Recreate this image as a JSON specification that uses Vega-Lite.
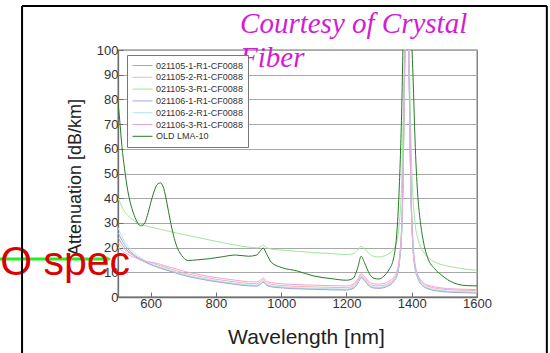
{
  "$schema": "https://vega.github.io/schema/vega-lite/v6.json",
  "width": 359,
  "height": 247,
  "autosize": {"type": "none"},
  "padding": {"left": 118, "top": 50, "right": 73, "bottom": 56},
  "background": "white",
  "config": {
    "view": {"stroke": "#707070", "strokeWidth": 1.3},
    "font": "Liberation Sans",
    "numberFormat": "d",
    "axis": {"labelFont": "Liberation Sans", "titleFont": "Liberation Sans", "labelColor": "#333333", "titleColor": "#222222", "domainColor": "#707070", "domainWidth": 1.3, "tickColor": "#707070", "titleFontWeight": "normal", "labelOverlap": false, "labelFlush": false},
    "legend": {"labelFont": "Liberation Sans"}
  },
  "layer": [
    {
      "data": {"values": [
        {"x":500,"s1":24,"s2":22,"s3":40,"s4":26,"s5":28,"s6":20,"s7":79},
        {"x":505,"s1":23,"s2":21.3,"s3":38.5,"s4":24.8,"s5":26.5,"s6":19.5,"s7":72},
        {"x":512,"s1":21.5,"s2":20.3,"s3":36.5,"s4":23,"s5":24.5,"s6":18.8,"s7":61},
        {"x":520,"s1":20,"s2":19.2,"s3":34.5,"s4":21.2,"s5":22.5,"s6":18,"s7":52},
        {"x":530,"s1":18.7,"s2":18.2,"s3":33,"s4":19.6,"s5":20.7,"s6":17.3,"s7":43},
        {"x":540,"s1":17.6,"s2":17.4,"s3":31.8,"s4":18.2,"s5":19.2,"s6":16.6,"s7":37},
        {"x":550,"s1":16.6,"s2":16.6,"s3":30.8,"s4":17,"s5":17.9,"s6":16,"s7":33},
        {"x":560,"s1":15.8,"s2":16,"s3":30,"s4":16,"s5":16.8,"s6":15.5,"s7":30},
        {"x":570,"s1":15,"s2":15.4,"s3":29.5,"s4":15.1,"s5":15.8,"s6":15,"s7":28.8},
        {"x":580,"s1":14.4,"s2":14.9,"s3":29.1,"s4":14.4,"s5":15,"s6":14.6,"s7":29.5},
        {"x":590,"s1":13.8,"s2":14.4,"s3":28.7,"s4":13.7,"s5":14.2,"s6":14.2,"s7":33},
        {"x":600,"s1":13.3,"s2":14,"s3":28.3,"s4":13.1,"s5":13.6,"s6":14,"s7":38},
        {"x":610,"s1":12.8,"s2":13.6,"s3":28,"s4":12.6,"s5":13,"s6":13.9,"s7":42.5},
        {"x":620,"s1":12.3,"s2":13.1,"s3":27.7,"s4":12.1,"s5":12.5,"s6":13.6,"s7":45.5},
        {"x":630,"s1":11.8,"s2":12.6,"s3":27.4,"s4":11.6,"s5":12,"s6":13.2,"s7":46.2},
        {"x":640,"s1":11.4,"s2":12.2,"s3":27.1,"s4":11.2,"s5":11.6,"s6":12.8,"s7":44},
        {"x":650,"s1":11,"s2":11.8,"s3":26.8,"s4":10.8,"s5":11.2,"s6":12.4,"s7":38},
        {"x":660,"s1":10.6,"s2":11.4,"s3":26.5,"s4":10.4,"s5":10.8,"s6":12,"s7":31},
        {"x":670,"s1":10.2,"s2":11,"s3":26.2,"s4":10,"s5":10.4,"s6":11.7,"s7":25},
        {"x":680,"s1":9.8,"s2":10.6,"s3":25.9,"s4":9.6,"s5":10,"s6":11.3,"s7":20.5},
        {"x":690,"s1":9.4,"s2":10.2,"s3":25.6,"s4":9.2,"s5":9.6,"s6":10.9,"s7":17.8},
        {"x":700,"s1":9,"s2":9.8,"s3":25.3,"s4":8.8,"s5":9.2,"s6":10.5,"s7":16},
        {"x":715,"s1":8.5,"s2":9.3,"s3":24.9,"s4":8.3,"s5":8.7,"s6":10,"s7":14.8},
        {"x":740,"s1":7.8,"s2":8.6,"s3":24.2,"s4":7.6,"s5":8,"s6":9.3,"s7":15},
        {"x":780,"s1":6.8,"s2":7.6,"s3":23.1,"s4":6.6,"s5":7,"s6":8.3,"s7":15.5},
        {"x":820,"s1":6,"s2":6.8,"s3":22,"s4":5.8,"s5":6.2,"s6":7.5,"s7":16.3},
        {"x":860,"s1":5.3,"s2":6.1,"s3":21,"s4":5.1,"s5":5.5,"s6":6.8,"s7":17},
        {"x":900,"s1":4.7,"s2":5.5,"s3":20.2,"s4":4.5,"s5":4.9,"s6":6.2,"s7":16.5},
        {"x":925,"s1":4.6,"s2":5.4,"s3":19.9,"s4":4.4,"s5":4.8,"s6":6.1,"s7":17},
        {"x":935,"s1":5.2,"s2":6,"s3":20.2,"s4":5,"s5":5.4,"s6":6.7,"s7":18.5},
        {"x":945,"s1":6.2,"s2":7,"s3":21,"s4":6,"s5":6.4,"s6":7.7,"s7":19.8},
        {"x":955,"s1":5,"s2":5.8,"s3":20,"s4":4.8,"s5":5.2,"s6":6.5,"s7":17.5},
        {"x":970,"s1":4.3,"s2":5.1,"s3":19.4,"s4":4.1,"s5":4.5,"s6":5.8,"s7":14},
        {"x":1000,"s1":3.9,"s2":4.7,"s3":19,"s4":3.7,"s5":4.1,"s6":5.4,"s7":12},
        {"x":1050,"s1":3.5,"s2":4.3,"s3":18.5,"s4":3.3,"s5":3.7,"s6":5,"s7":10.5},
        {"x":1100,"s1":3.3,"s2":4.1,"s3":18,"s4":3.1,"s5":3.5,"s6":4.8,"s7":8.5},
        {"x":1150,"s1":3.1,"s2":3.9,"s3":17.6,"s4":2.9,"s5":3.3,"s6":4.6,"s7":7.5},
        {"x":1200,"s1":3,"s2":3.8,"s3":17.2,"s4":2.8,"s5":3.2,"s6":4.5,"s7":6.8},
        {"x":1220,"s1":3.6,"s2":4.4,"s3":17.5,"s4":3.4,"s5":3.8,"s6":5.1,"s7":7.5},
        {"x":1235,"s1":5.8,"s2":6.6,"s3":19,"s4":5.6,"s5":6,"s6":7.3,"s7":12},
        {"x":1245,"s1":8,"s2":8.8,"s3":20.5,"s4":7.8,"s5":8.2,"s6":9.5,"s7":16.5},
        {"x":1255,"s1":6.8,"s2":7.6,"s3":19.6,"s4":6.6,"s5":7,"s6":8.3,"s7":14},
        {"x":1270,"s1":4.6,"s2":5.4,"s3":17.5,"s4":4.4,"s5":4.8,"s6":6.1,"s7":9.5},
        {"x":1285,"s1":3.8,"s2":4.6,"s3":16.4,"s4":3.6,"s5":4,"s6":5.3,"s7":7.5},
        {"x":1300,"s1":3.7,"s2":4.5,"s3":16.2,"s4":3.5,"s5":3.9,"s6":5.2,"s7":7.3},
        {"x":1315,"s1":4,"s2":4.8,"s3":16.6,"s4":3.8,"s5":4.2,"s6":5.5,"s7":8.5},
        {"x":1330,"s1":4.8,"s2":5.6,"s3":17.5,"s4":4.6,"s5":5,"s6":6.3,"s7":11},
        {"x":1345,"s1":6.5,"s2":7.3,"s3":19.5,"s4":6.3,"s5":6.7,"s6":8,"s7":16},
        {"x":1355,"s1":9,"s2":9.8,"s3":23,"s4":8.8,"s5":9.2,"s6":10.5,"s7":27},
        {"x":1362,"s1":14,"s2":14.8,"s3":30,"s4":13.8,"s5":14.2,"s6":15.5,"s7":45},
        {"x":1370,"s1":30,"s2":31,"s3":50,"s4":29,"s5":30,"s6":32,"s7":80},
        {"x":1373,"s1":45,"s2":46,"s3":68,"s4":44,"s5":45,"s6":47,"s7":100},
        {"x":1378,"s1":90,"s2":92,"s3":100,"s4":88,"s5":90,"s6":92,"s7":120},
        {"x":1385,"s1":135,"s2":135,"s3":130,"s4":135,"s5":135,"s6":135,"s7":135},
        {"x":1392,"s1":90,"s2":92,"s3":100,"s4":88,"s5":90,"s6":92,"s7":125},
        {"x":1398,"s1":40,"s2":41,"s3":62,"s4":39,"s5":40,"s6":42,"s7":112},
        {"x":1401,"s1":28,"s2":29,"s3":48,"s4":27,"s5":28,"s6":30,"s7":100},
        {"x":1405,"s1":18,"s2":19,"s3":38,"s4":17.5,"s5":18,"s6":20,"s7":85},
        {"x":1410,"s1":12,"s2":13,"s3":30,"s4":11.8,"s5":12.2,"s6":13.5,"s7":64},
        {"x":1418,"s1":8,"s2":8.9,"s3":24,"s4":7.8,"s5":8.2,"s6":9.4,"s7":42},
        {"x":1425,"s1":6,"s2":6.8,"s3":21,"s4":5.8,"s5":6.2,"s6":7.3,"s7":32},
        {"x":1435,"s1":4.5,"s2":5.3,"s3":18.5,"s4":4.3,"s5":4.7,"s6":5.8,"s7":23},
        {"x":1450,"s1":3.5,"s2":4.3,"s3":16,"s4":3.3,"s5":3.7,"s6":4.8,"s7":15.5},
        {"x":1470,"s1":2.8,"s2":3.6,"s3":14.2,"s4":2.6,"s5":3,"s6":4.1,"s7":11.5},
        {"x":1490,"s1":2.4,"s2":3.2,"s3":13.2,"s4":2.2,"s5":2.6,"s6":3.7,"s7":9},
        {"x":1510,"s1":2.2,"s2":3,"s3":12.5,"s4":2,"s5":2.4,"s6":3.4,"s7":7},
        {"x":1540,"s1":2,"s2":2.8,"s3":11.8,"s4":1.8,"s5":2.2,"s6":3.2,"s7":5.2},
        {"x":1570,"s1":1.9,"s2":2.7,"s3":11.2,"s4":1.7,"s5":2.1,"s6":3.1,"s7":4.6},
        {"x":1600,"s1":1.8,"s2":2.6,"s3":10.8,"s4":1.6,"s5":2,"s6":3,"s7":4.5}
      ]},
      "transform": [{"fold": ["s1","s2","s3","s4","s5","s6","s7"], "as": ["k","v"]}],
      "mark": {"type": "line", "clip": true, "interpolate": "monotone"},
      "encoding": {
        "x": {"field": "x", "type": "quantitative", "scale": {"domain": [500, 1600], "nice": false, "zero": false},
          "axis": {"title": "Wavelength [nm]", "titleFontSize": 21, "titlePadding": 16, "titleX": 188, "labelFontSize": 13, "labelPadding": 5, "labelOverlap": false, "labelFlush": false, "format": "d", "values": [600,800,1000,1200,1400,1600], "tickSize": -5, "grid": false}},
        "y": {"field": "v", "type": "quantitative", "scale": {"domain": [0, 100], "nice": false},
          "axis": {"title": "Attenuation [dB/km]", "titleFontSize": 18, "titlePadding": 12, "titleY": 127, "labelFontSize": 13, "labelPadding": 5, "labelOverlap": false, "labelFlush": false, "format": "d", "values": [0,10,20,30,40,50,60,70,80,90,100], "tickSize": -5, "grid": true, "gridColor": "#a8a8a8"}},
        "color": {"field": "k", "type": "nominal",
          "scale": {"domain": ["s1","s2","s3","s4","s5","s6","s7"], "range": ["#a9a9a9","#f4b4a6","#9ee89a","#a6a6e6","#b4e4f0","#e8a6e0","#247a24"]},
          "legend": {"title": null, "orient": "none", "legendX": 9, "legendY": 5, "fillColor": "white", "strokeColor": "#777777", "padding": 5,
            "symbolType": "M-2,0H2", "symbolSize": 100, "symbolOffset": 5, "symbolStrokeWidth": 1.5, "labelFontSize": 9, "labelColor": "#333333", "rowPadding": 0.8, "labelOffset": 8,
            "labelExpr": "{'s1':'021105-1-R1-CF0088','s2':'021105-2-R1-CF0088','s3':'021105-3-R1-CF0088','s4':'021106-1-R1-CF0088','s5':'021106-2-R1-CF0088','s6':'021106-3-R1-CF0088','s7':'OLD LMA-10'}[datum.label]"}},
        "strokeWidth": {"field": "k", "type": "nominal", "scale": {"domain": ["s1","s2","s3","s4","s5","s6","s7"], "range": [1,1,1,1,1,1,2.2]}, "legend": null}
      }
    },
    {
      "data": {"values": [{}]},
      "mark": {"type": "rule", "color": "#22ee22", "strokeWidth": 3, "clip": false},
      "encoding": {
        "x": {"datum": 100, "axis": {"title": "Wavelength [nm]", "titleFontSize": 21, "titlePadding": 16, "titleX": 188, "labelFontSize": 13, "labelPadding": 5, "labelOverlap": false, "labelFlush": false, "format": "d", "values": [600,800,1000,1200,1400,1600], "tickSize": -5, "grid": false}},
        "x2": {"datum": 470},
        "y": {"datum": 15.4, "axis": {"title": "Attenuation [dB/km]", "titleFontSize": 18, "titlePadding": 12, "titleY": 127, "labelFontSize": 13, "labelPadding": 5, "labelOverlap": false, "labelFlush": false, "format": "d", "values": [0,10,20,30,40,50,60,70,80,90,100], "tickSize": -5, "grid": true, "gridColor": "#a8a8a8"}}}
    },
    {
      "data": {"values": [{}]},
      "mark": {"type": "point", "shape": "triangle-right", "filled": true, "color": "#22ee22", "size": 90, "opacity": 1, "clip": false},
      "encoding": {
        "x": {"datum": 466, "axis": {"title": "Wavelength [nm]", "titleFontSize": 21, "titlePadding": 16, "titleX": 188, "labelFontSize": 13, "labelPadding": 5, "labelOverlap": false, "labelFlush": false, "format": "d", "values": [600,800,1000,1200,1400,1600], "tickSize": -5, "grid": false}},
        "y": {"datum": 15.4, "axis": {"title": "Attenuation [dB/km]", "titleFontSize": 18, "titlePadding": 12, "titleY": 127, "labelFontSize": 13, "labelPadding": 5, "labelOverlap": false, "labelFlush": false, "format": "d", "values": [0,10,20,30,40,50,60,70,80,90,100], "tickSize": -5, "grid": true, "gridColor": "#a8a8a8"}}}
    },
    {
      "data": {"values": [{}]},
      "mark": {"type": "text", "align": "right", "baseline": "alphabetic", "font": "Liberation Sans", "fontSize": 41, "color": "#dd0000", "clip": false},
      "encoding": {
        "x": {"datum": 537, "axis": {"title": "Wavelength [nm]", "titleFontSize": 21, "titlePadding": 16, "titleX": 188, "labelFontSize": 13, "labelPadding": 5, "labelOverlap": false, "labelFlush": false, "format": "d", "values": [600,800,1000,1200,1400,1600], "tickSize": -5, "grid": false}},
        "y": {"datum": 8.9, "axis": {"title": "Attenuation [dB/km]", "titleFontSize": 18, "titlePadding": 12, "titleY": 127, "labelFontSize": 13, "labelPadding": 5, "labelOverlap": false, "labelFlush": false, "format": "d", "values": [0,10,20,30,40,50,60,70,80,90,100], "tickSize": -5, "grid": true, "gridColor": "#a8a8a8"}},
        "text": {"value": "O spec"}}
    },
    {
      "data": {"values": [{}]},
      "mark": {"type": "text", "align": "left", "baseline": "alphabetic", "font": "Liberation Serif", "fontStyle": "italic", "fontSize": 29, "color": "#d41cd4", "lineBreak": "\n", "lineHeight": 34, "clip": false},
      "encoding": {
        "x": {"datum": 874, "axis": {"title": "Wavelength [nm]", "titleFontSize": 21, "titlePadding": 16, "titleX": 188, "labelFontSize": 13, "labelPadding": 5, "labelOverlap": false, "labelFlush": false, "format": "d", "values": [600,800,1000,1200,1400,1600], "tickSize": -5, "grid": false}},
        "y": {"datum": 106.9, "axis": {"title": "Attenuation [dB/km]", "titleFontSize": 18, "titlePadding": 12, "titleY": 127, "labelFontSize": 13, "labelPadding": 5, "labelOverlap": false, "labelFlush": false, "format": "d", "values": [0,10,20,30,40,50,60,70,80,90,100], "tickSize": -5, "grid": true, "gridColor": "#a8a8a8"}},
        "text": {"value": "Courtesy of Crystal\nFiber"}}
    },
    {
      "data": {"values": [{}]},
      "mark": {"type": "rule", "color": "black", "strokeWidth": 2, "clip": false},
      "encoding": {
        "x": {"datum": 206, "axis": {"title": "Wavelength [nm]", "titleFontSize": 21, "titlePadding": 16, "titleX": 188, "labelFontSize": 13, "labelPadding": 5, "labelOverlap": false, "labelFlush": false, "format": "d", "values": [600,800,1000,1200,1400,1600], "tickSize": -5, "grid": false}},
        "y": {"datum": -30, "axis": {"title": "Attenuation [dB/km]", "titleFontSize": 18, "titlePadding": 12, "titleY": 127, "labelFontSize": 13, "labelPadding": 5, "labelOverlap": false, "labelFlush": false, "format": "d", "values": [0,10,20,30,40,50,60,70,80,90,100], "tickSize": -5, "grid": true, "gridColor": "#a8a8a8"}},
        "y2": {"datum": 117.8}}
    },
    {
      "data": {"values": [{}]},
      "mark": {"type": "rule", "color": "black", "strokeWidth": 2, "clip": false},
      "encoding": {
        "x": {"datum": 1814, "axis": {"title": "Wavelength [nm]", "titleFontSize": 21, "titlePadding": 16, "titleX": 188, "labelFontSize": 13, "labelPadding": 5, "labelOverlap": false, "labelFlush": false, "format": "d", "values": [600,800,1000,1200,1400,1600], "tickSize": -5, "grid": false}},
        "y": {"datum": -30, "axis": {"title": "Attenuation [dB/km]", "titleFontSize": 18, "titlePadding": 12, "titleY": 127, "labelFontSize": 13, "labelPadding": 5, "labelOverlap": false, "labelFlush": false, "format": "d", "values": [0,10,20,30,40,50,60,70,80,90,100], "tickSize": -5, "grid": true, "gridColor": "#a8a8a8"}},
        "y2": {"datum": 117.8}}
    },
    {
      "data": {"values": [{}]},
      "mark": {"type": "rule", "color": "black", "strokeWidth": 2, "clip": false},
      "encoding": {
        "x": {"datum": 206, "axis": {"title": "Wavelength [nm]", "titleFontSize": 21, "titlePadding": 16, "titleX": 188, "labelFontSize": 13, "labelPadding": 5, "labelOverlap": false, "labelFlush": false, "format": "d", "values": [600,800,1000,1200,1400,1600], "tickSize": -5, "grid": false}},
        "x2": {"datum": 1814},
        "y": {"datum": 117.8, "axis": {"title": "Attenuation [dB/km]", "titleFontSize": 18, "titlePadding": 12, "titleY": 127, "labelFontSize": 13, "labelPadding": 5, "labelOverlap": false, "labelFlush": false, "format": "d", "values": [0,10,20,30,40,50,60,70,80,90,100], "tickSize": -5, "grid": true, "gridColor": "#a8a8a8"}}}
    }
  ]
}
